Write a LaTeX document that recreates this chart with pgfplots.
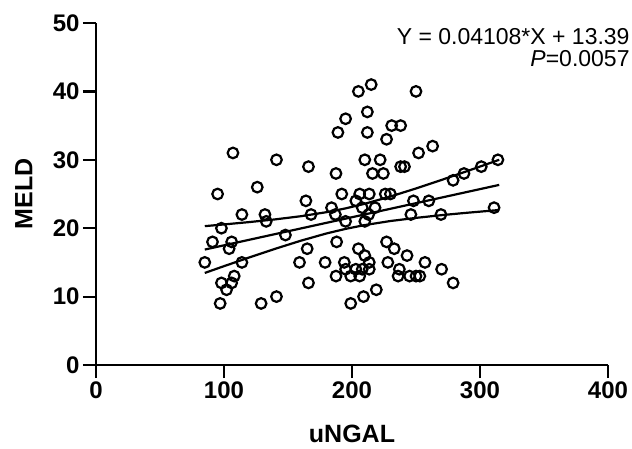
\documentclass[border=0pt]{standalone}
\usepackage{fontspec}
\setmainfont{Liberation Sans}
\usepackage{pgfplots}
\pgfplotsset{compat=1.18}

\begin{document}
\begin{tikzpicture}
\begin{axis}[
  at={(0,0)}, anchor=south west,
  scale only axis, width=512bp, height=342bp,
  xmin=0, xmax=400, ymin=0, ymax=50,
  axis lines=left,
  axis line style={-, line width=2.2bp},
  xtick={0,100,200,300,400}, ytick={0,10,20,30,40,50},
  tick align=outside, major tick length=13bp,
  tick style={line width=2.2bp, black},
  /pgf/number format/assume math mode=true,
  ticklabel style={font=\fontsize{24bp}{28bp}\selectfont\bfseries},
  every axis x label/.style={at={(axis description cs:0.5,-0.176)}, anchor=north, inner sep=0pt},
  every axis y label/.style={at={(axis description cs:-0.158,0.5)}, rotate=90, anchor=north, inner sep=0pt},
  label style={font=\fontsize{25bp}{29bp}\selectfont\bfseries},
  xlabel={uNGAL}, ylabel={MELD},
  clip=false,
]
  % scatter
  \addplot[only marks, mark=o, mark size=5.3bp, mark options={line width=2.2bp, black}] coordinates {
    (107,31) (95,25) (126,26) (114,22) (98,20) (91,18) (106,18) (104,17)
    (85,15) (114,15) (108,13) (98,12) (106,12) (102,11) (97,9) (129,9) (141,10)
    (141,30) (132,22) (133,21) (148,19) (166,29) (164,24) (168,22) (165,17)
    (159,15) (166,12)
    (187.5,28) (189,34) (195,36) (192,25) (184,23) (187,22) (195,21) (188,18)
    (179,15) (194,15) (195,14) (187.5,13) (199,9)
    (215,41) (205,40) (250,40) (212,37) (212,34) (231,35) (238,35) (227,33)
    (263,32) (252,31) (210,30) (222,30) (314,30) (238,29) (241,29) (301,29)
    (287.5,28) (216,28) (224.5,28) (279,27) (206,25) (213.5,25) (226,25) (230,25)
    (203,24) (248,24) (260,24) (218,23) (208,23) (311,23) (213,22) (246,22)
    (269.5,22) (210,21) (227,18) (233,17) (205,17) (243,16) (210,16)
    (213.5,15) (228,15) (257,15) (203,14) (208,14) (213.5,14) (237,14) (270,14)
    (199,13) (206,13) (236,13) (245,13) (250,13) (253,13) (279,12) (219,11) (209,10)
  };
  % fit line
  \addplot[no marks, line width=2.2bp, black] coordinates {(85,16.88) (315,26.33)};
  % 95% band, upper and lower
  \addplot[no marks, line width=2.2bp, black] coordinates {
    (85,20.30) (100,20.55) (120,20.90) (140,21.29) (160,21.75) (180,22.34) (195,22.90)
    (210,23.57) (230,24.63) (250,25.81) (270,27.06) (290,28.35) (315,30.00)};
  \addplot[no marks, line width=2.2bp, black] coordinates {
    (85,13.46) (100,14.45) (120,15.74) (140,16.99) (160,18.17) (180,19.23) (195,19.90)
    (210,20.46) (230,21.05) (250,21.51) (270,21.91) (290,22.26) (315,22.66)};
  \node[anchor=base east, inner sep=0pt, font=\fontsize{23bp}{27bp}\selectfont] at (axis cs:417,46.85) {Y = 0.04108*X + 13.39};
  \node[anchor=base east, inner sep=0pt, font=\fontsize{23bp}{27bp}\selectfont] at (axis cs:417,43.70) {\textit{P}=0.0057};
\end{axis}
\pgfresetboundingbox
\path[use as bounding box] (-96bp,-84bp) rectangle (536bp,365bp);
\end{tikzpicture}
\end{document}
